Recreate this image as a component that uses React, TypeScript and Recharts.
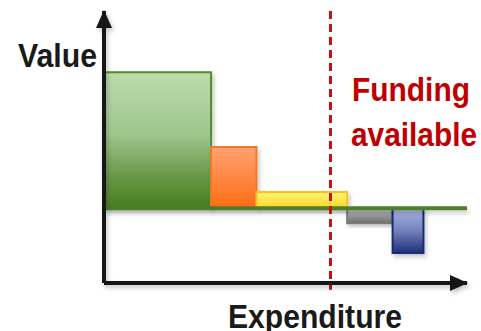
import React from "react";
import {
  ComposedChart,
  ReferenceArea,
  ReferenceLine,
  XAxis,
  YAxis,
} from "recharts";

// spend options, left to right along the expenditure axis
const categories = ["A", "B", "C", "D", "E"];
const spend = [29.5, 12.5, 25, 12.5, 8.5];
const value = [100, 45, 12, -11, -33];
const fundingAvailable = 62.4;

const fills = ["gGreen", "gOrange", "gYellow", "gGray", "gBlue"];
const strokes = ["#548a2e", "#f07a24", "#f4c02a", "#7a7a7a", "#142f70"];

const FONT = "'Liberation Sans', Arial, sans-serif";

// cumulative start/end of each block on the x axis
const blocks = categories.map((name, i) => {
  const x1 = spend.slice(0, i).reduce((a, b) => a + b, 0);
  return { name, x1, x2: x1 + spend[i], value: value[i] };
});

const chartData = blocks.map((b) => ({ x: b.x1, value: b.value }));

function App() {
  return (
    <div
      style={{
        position: "absolute",
        left: 0,
        top: 0,
        width: 481,
        height: 331,
        background: "#fff",
      }}
    >
      <ComposedChart
        width={481}
        height={331}
        data={chartData}
        margin={{ top: 11, right: 14, bottom: 47, left: 103 }}
      >
        <defs>
          <linearGradient id="gGreen" x1="0" y1="0" x2="0" y2="1">
            <stop offset="0" stopColor="#bbdcac" />
            <stop offset="0.45" stopColor="#a0c68e" />
            <stop offset="0.75" stopColor="#6c9a4c" />
            <stop offset="1" stopColor="#477e1f" />
          </linearGradient>
          <linearGradient id="gOrange" x1="0" y1="0" x2="0" y2="1">
            <stop offset="0" stopColor="#ffa274" />
            <stop offset="1" stopColor="#ff6c12" />
          </linearGradient>
          <linearGradient id="gYellow" x1="0" y1="0" x2="0" y2="1">
            <stop offset="0" stopColor="#fff574" />
            <stop offset="1" stopColor="#ffd62c" />
          </linearGradient>
          <linearGradient id="gGray" x1="0" y1="0" x2="0" y2="1">
            <stop offset="0" stopColor="#c4c4c4" />
            <stop offset="1" stopColor="#6e6e6e" />
          </linearGradient>
          <linearGradient id="gBlue" x1="0" y1="0" x2="0" y2="1">
            <stop offset="0" stopColor="#aab6e2" />
            <stop offset="0.5" stopColor="#7382bc" />
            <stop offset="1" stopColor="#1c2f78" />
          </linearGradient>
          <marker
            id="arrowHead"
            viewBox="0 0 18 16"
            markerWidth={18}
            markerHeight={16}
            markerUnits="userSpaceOnUse"
            refX={17}
            refY={8}
            orient="auto-start-reverse"
          >
            <path d="M0,0 L18,8 L0,16 Z" fill="#151515" />
          </marker>
          <filter id="softShadow" x="-10%" y="-10%" width="130%" height="140%">
            <feDropShadow dx="2" dy="3" stdDeviation="2" floodColor="#000" floodOpacity="0.22" />
          </filter>
          {/* lines have a flat bounding box, so their shadow uses page units */}
          <filter id="lineShadow" filterUnits="userSpaceOnUse" x="0" y="0" width="481" height="331">
            <feDropShadow dx="2" dy="3" stdDeviation="2" floodColor="#000" floodOpacity="0.22" />
          </filter>
        </defs>

        <XAxis
          type="number"
          dataKey="x"
          domain={[0, 100]}
          allowDataOverflow
          height={1}
          tick={false}
          tickLine={false}
          axisLine={{ stroke: "#151515", strokeWidth: 4, markerEnd: "url(#arrowHead)", filter: "url(#lineShadow)" }}
        />
        <YAxis
          type="number"
          dataKey="value"
          domain={[-55, 145]}
          allowDataOverflow
          width={1}
          tick={false}
          tickLine={false}
          axisLine={{ stroke: "#151515", strokeWidth: 4, markerStart: "url(#arrowHead)", filter: "url(#lineShadow)" }}
        />

        <ReferenceLine
          segment={[
            { x: 0, y: 0 },
            { x: 100, y: 0 },
          ]}
          stroke="#4e7f2a"
          strokeWidth={4}
          filter="url(#lineShadow)"
          ifOverflow="visible"
        />

        {blocks.map((b, i) => (
          <ReferenceArea
            key={b.name}
            x1={b.x1}
            x2={b.x2}
            y1={0}
            y2={b.value}
            fill={`url(#${fills[i]})`}
            fillOpacity={1}
            stroke={strokes[i]}
            strokeWidth={2}
            filter="url(#softShadow)"
            ifOverflow="visible"
          />
        ))}

        <ReferenceLine
          segment={[
            { x: fundingAvailable, y: 145 },
            { x: fundingAvailable, y: -60 },
          ]}
          stroke="#c8101a"
          strokeWidth={3}
          strokeDasharray="8 5"
          ifOverflow="visible"
        />

        <text x={18} y={67} fontFamily={FONT} fontWeight="bold" fontSize={34} fill="#1a1a1a" textLength={79} lengthAdjust="spacingAndGlyphs">
          Value
        </text>
        <text x={228} y={328} fontFamily={FONT} fontWeight="bold" fontSize={34} fill="#1a1a1a" textLength={174} lengthAdjust="spacingAndGlyphs">
          Expenditure
        </text>
        <text x={352} y={101} fontFamily={FONT} fontWeight="bold" fontSize={34} fill="#c00000" textLength={118} lengthAdjust="spacingAndGlyphs">
          Funding
        </text>
        <text x={351} y={146} fontFamily={FONT} fontWeight="bold" fontSize={34} fill="#c00000" textLength={126} lengthAdjust="spacingAndGlyphs">
          available
        </text>
      </ComposedChart>
    </div>
  );
}

export default App;
